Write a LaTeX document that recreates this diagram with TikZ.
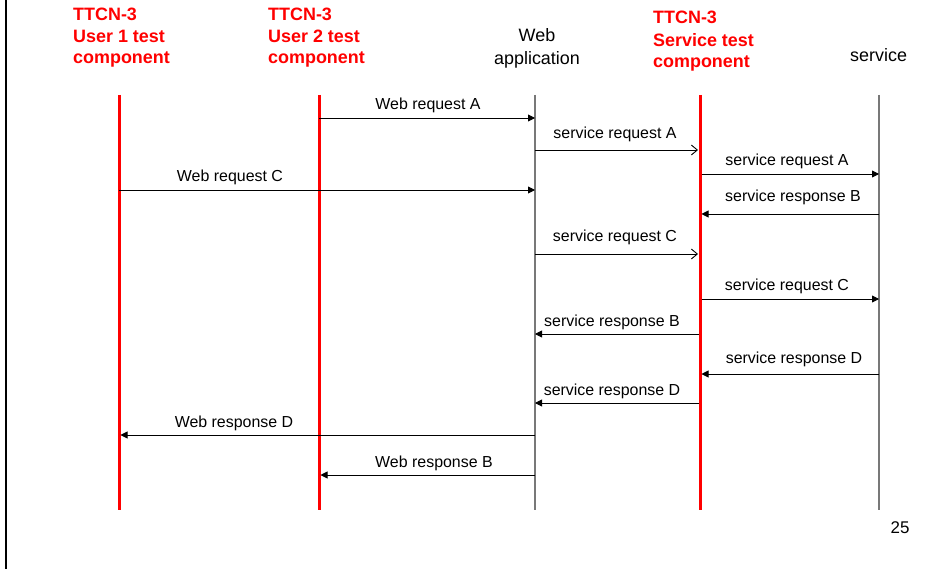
\documentclass[tikz,border=0pt]{standalone}
\usepackage{fontspec}
\setmainfont{Liberation Sans}
\usetikzlibrary{arrows.meta}
\definecolor{ttcnred}{RGB}{255,0,0}
\definecolor{lifegray}{RGB}{120,120,120}
\tikzset{
  hdr/.style={anchor=base west, inner sep=0pt, text=ttcnred, font=\fontsize{18}{21}\selectfont\bfseries},
  hdrplain/.style={anchor=base, inner sep=0pt, text=black, font=\fontsize{18}{21}\selectfont},
  lbl/.style={anchor=base, inner sep=0pt, font=\fontsize{16}{19}\selectfont},
  redlife/.style={draw=ttcnred, line width=3bp},
  graylife/.style={draw=lifegray, line width=1.4bp},
  msgf/.style={draw=black, line width=0.9bp, -{Triangle[length=7bp,width=7bp]}},
  msgo/.style={draw=black, line width=0.9bp, -{Straight Barb[length=6bp,width=10bp,line width=0.9bp]}},
}
\begin{document}
\begin{tikzpicture}[x=1bp,y=-1bp]
\useasboundingbox (0,0) rectangle (952,569);
\fill[white] (0,0) rectangle (952,569);
\draw[black, line width=2bp] (6,0) coordinate (bt) -- (6,569) coordinate (bb);

% headers
\node[hdr] (h1a) at (73,21) {TTCN-3};
\node[hdr] (h1b) at (73,43) {User 1 test};
\node[hdr] (h1c) at (73,64) {component};
\node[hdr] (h2a) at (268,21) {TTCN-3};
\node[hdr] (h2b) at (268,43) {User 2 test};
\node[hdr] (h2c) at (268,64) {component};
\node[hdrplain] (h3a) at (537,42) {Web};
\node[hdrplain] (h3b) at (537,65) {application};
\node[hdr] (h4a) at (653,24) {TTCN-3};
\node[hdr] (h4b) at (653,47) {Service test};
\node[hdr] (h4c) at (653,68) {component};
\node[hdrplain, anchor=base west] (h5) at (850,62) {service};

% lifelines
\coordinate (L1) at (119,95);  \coordinate (L1e) at (119,510);
\coordinate (L2) at (319,95);  \coordinate (L2e) at (319,510);
\coordinate (L3) at (535,95);  \coordinate (L3e) at (535,510);
\coordinate (L4) at (700,95);  \coordinate (L4e) at (700,510);
\coordinate (L5) at (879,95);  \coordinate (L5e) at (879,510);
\draw[graylife] (L3) -- (L3e);
\draw[graylife] (L5) -- (L5e);
\draw[redlife] (L1) -- (L1e);
\draw[redlife] (L2) -- (L2e);
\draw[redlife] (L4) -- (L4e);

% messages
\draw[msgf] (L2 |- 0,118) -- (L3 |- 0,118);
\node[lbl] (m1) at (428,110) {Web request A};
\draw[msgo] (L3 |- 0,150) -- (698,150);
\node[lbl] (m2) at (615,139) {service request A};
\draw[msgf] (701.5,174) -- (L5 |- 0,174);
\node[lbl] (m3) at (787,166) {service request A};
\draw[msgf] (L1 |- 0,190) -- (L3 |- 0,190);
\node[lbl] (m4) at (230,182) {Web request C};
\draw[msgf] (L5 |- 0,214) -- (701.5,214);
\node[lbl] (m5) at (793,202) {service response B};
\draw[msgo] (L3 |- 0,254) -- (698,254);
\node[lbl] (m6) at (615,242) {service request C};
\draw[msgf] (701.5,299) -- (L5 |- 0,299);
\node[lbl] (m7) at (787,290) {service request C};
\draw[msgf] (698.5,334) -- (L3 |- 0,334);
\node[lbl] (m8) at (612,326) {service response B};
\draw[msgf] (L5 |- 0,374) -- (701.5,374);
\node[lbl] (m9) at (794,363) {service response D};
\draw[msgf] (698.5,403) -- (L3 |- 0,403);
\node[lbl] (m10) at (612,395) {service response D};
\draw[msgf] (L3 |- 0,435) -- (120.5,435);
\node[lbl] (m11) at (234,427) {Web response D};
\draw[msgf] (L3 |- 0,475) -- (320.5,475);
\node[lbl] (m12) at (434,467) {Web response B};

\node[lbl, font=\fontsize{17}{20}\selectfont] (pg) at (900,533) {25};
\end{tikzpicture}
\end{document}
